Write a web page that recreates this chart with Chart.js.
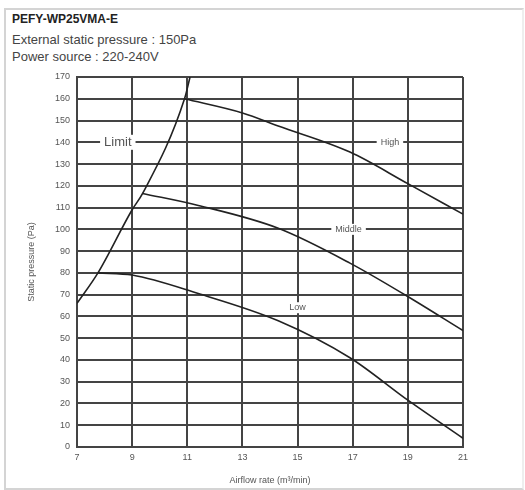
<!DOCTYPE html>
<html>
<head>
<meta charset="utf-8">
<script src="https://cdn.jsdelivr.net/npm/chart.js@4.4.0/dist/chart.umd.min.js"></script>
<style>
  html, body { margin: 0; padding: 0; background: #fff; }
  body { width: 525px; height: 490px; position: relative; overflow: hidden; font-family: "Liberation Sans", Arial, sans-serif; }
  .frame { position: absolute; left: 4px; top: 8px; width: 516px; height: 478px; border: 2px solid #d4d4d4; border-right-color: #eee; }
  .head { position: absolute; left: 12px; color: #444; font-size: 13px; white-space: nowrap; }
  #h1 { top: 12px; font-weight: bold; font-size: 12px; color: #222; }
  #h2 { top: 32px; }
  #h3 { top: 49px; }
  #wrap { position: absolute; left: 0; top: 0; width: 525px; height: 490px; }
</style>
</head>
<body>
<div class="frame"></div>
<div class="head" id="h1">PEFY-WP25VMA-E</div>
<div class="head" id="h2">External static pressure : 150Pa</div>
<div class="head" id="h3">Power source : 220-240V</div>
<div id="wrap"><canvas id="chart" width="525" height="490"></canvas></div>
<script>
// airflow (m3/min) and static pressure (Pa)
const limitFlow = [7, 7.76, 9, 9.38, 10.9, 11.1];
const limitPa   = [66, 80, 109, 116.5, 160, 170];

const highFlow = [10.9, 13, 14.3, 16.9, 19, 21];
const highPa   = [160, 153.5, 147.5, 135.5, 121, 107];

const middleFlow = [9.38, 11.4, 14.3, 16.9, 18.95, 21];
const middlePa   = [116.5, 111, 100.5, 84.5, 69.5, 53.5];

const lowFlow = [7.76, 9, 11.4, 14.3, 16.9, 19, 21];
const lowPa   = [80, 79, 70.5, 58, 41, 21.5, 4];

const xTicks = [7, 9, 11, 13, 15, 17, 19, 21];
const yTicks = [0, 10, 20, 30, 40, 50, 60, 70, 80, 90, 100, 110, 120, 130, 140, 150, 160, 170];

// curve labels: [text, flow, pressure, font size]
const curveLabels = [
  ["Limit", 8.48, 140, 13],
  ["High", 18.35, 140, 9],
  ["Middle", 16.85, 100, 9],
  ["Low", 15.0, 64, 9]
];

const pts = (xs, ys) => xs.map((x, i) => ({ x: x, y: ys[i] }));

const lineSet = (label, xs, ys) => ({
  label: label,
  data: pts(xs, ys),
  borderColor: "#222",
  borderWidth: 1.6,
  pointRadius: 0,
  fill: false,
  cubicInterpolationMode: "monotone"
});

const labelPlugin = {
  id: "curveLabels",
  afterDatasetsDraw(chart) {
    const c = chart.ctx;
    const xs = chart.scales.x, ys = chart.scales.y;
    c.save();
    c.textAlign = "center";
    c.textBaseline = "middle";
    curveLabels.forEach(([t, fx, fy, sz]) => {
      c.font = sz + "px 'Liberation Sans', Arial, sans-serif";
      const px = xs.getPixelForValue(fx), py = ys.getPixelForValue(fy);
      const w = c.measureText(t).width + 8;
      c.fillStyle = "#fff";
      c.fillRect(px - w / 2, py - sz / 2 - 1, w, sz + 2);
      c.fillStyle = "#555";
      c.fillText(t, px, py);
    });
    c.restore();
  }
};

const ctx = document.getElementById("chart").getContext("2d");

new Chart(ctx, {
  type: "line",
  data: {
    datasets: [
      lineSet("Limit", limitFlow, limitPa),
      lineSet("High", highFlow, highPa),
      lineSet("Middle", middleFlow, middlePa),
      lineSet("Low", lowFlow, lowPa)
    ]
  },
  options: {
    responsive: false,
    animation: false,
    layout: { padding: { top: 77, right: 62, bottom: 4, left: 0 } },
    plugins: {
      legend: { display: false },
      tooltip: { enabled: false }
    },
    scales: {
      x: {
        type: "linear",
        min: 7,
        max: 21,
        afterBuildTicks: s => { s.ticks = xTicks.map(v => ({ value: v })); },
        afterFit: s => { s.height = 39; },
        ticks: { color: "#555", font: { size: 9 }, padding: 5 },
        grid: { color: "#444", lineWidth: 2, drawTicks: false },
        border: { color: "#444", width: 2 },
        title: {
          display: true,
          text: "Airflow rate (m³/min)",
          color: "#555",
          font: { size: 9 },
          padding: { top: 5, bottom: 0 }
        }
      },
      y: {
        type: "linear",
        min: 0,
        max: 170,
        afterBuildTicks: s => { s.ticks = yTicks.map(v => ({ value: v })); },
        afterFit: s => { s.width = 77; },
        ticks: { color: "#555", font: { size: 9 }, padding: 7 },
        grid: { color: "#444", lineWidth: 2, drawTicks: false },
        border: { color: "#444", width: 2 },
        title: {
          display: true,
          text: "Static pressure (Pa)",
          color: "#555",
          font: { size: 9 },
          padding: { top: 26, bottom: 0 }
        }
      }
    }
  },
  plugins: [labelPlugin]
});
</script>
</body>
</html>
